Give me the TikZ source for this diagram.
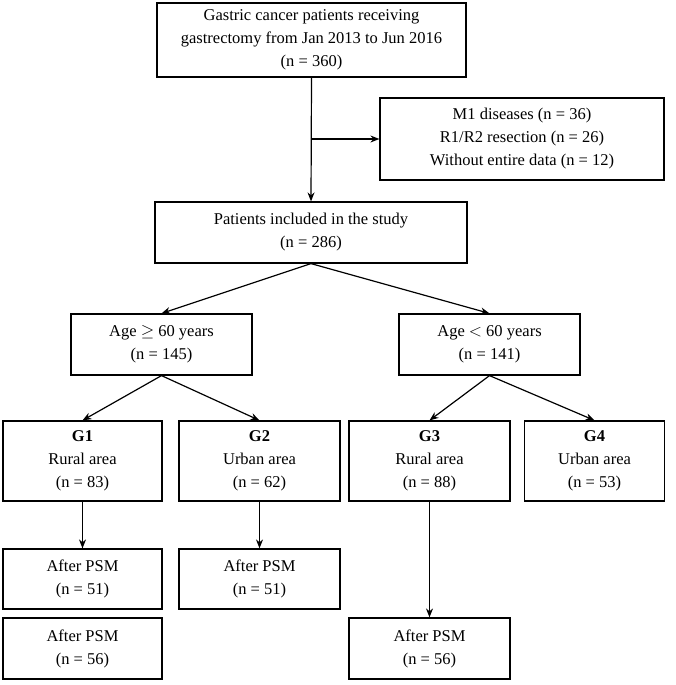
\documentclass[tikz,border=0pt]{standalone}
\usepackage{fontspec}
\setmainfont{Liberation Serif}
\usetikzlibrary{arrows.meta}
\begin{document}
\begin{tikzpicture}[x=1pt,y=-1pt,
  bx/.style={draw,line width=1.2pt,align=center,inner sep=0pt,font=\fontsize{16.5}{23}\selectfont},
  ar/.style={line width=1.2pt,-{Stealth[length=9pt,width=7pt]}}]
\useasboundingbox[fill=white] (0,0) rectangle (676,685);
\node[bx,minimum width=309,minimum height=74] (a) at (311.5,40) {Gastric cancer patients receiving\\gastrectomy from Jan 2013 to Jun 2016\\(n = 360)};
\node[bx,minimum width=284,minimum height=82] (b) at (522,139) {M1 diseases (n = 36)\\R1/R2 resection (n = 26)\\Without entire data (n = 12)};
\node[bx,minimum width=312,minimum height=61] (c) at (311,232.5) {Patients included in the study\\(n = 286)};
\node[bx,minimum width=181,minimum height=61] (d) at (161.5,344.5) {Age $\geq$ 60 years\\(n = 145)};
\node[bx,minimum width=181,minimum height=61] (e) at (489.5,344.5) {Age $<$ 60 years\\(n = 141)};
\node[bx,minimum width=159,minimum height=80] (g1) at (82.5,461) {\textbf{G1}\\Rural area\\(n = 83)};
\node[bx,minimum width=161,minimum height=80] (g2) at (259.5,461) {\textbf{G2}\\Urban area\\(n = 62)};
\node[bx,minimum width=161,minimum height=80] (g3) at (429.5,461) {\textbf{G3}\\Rural area\\(n = 88)};
\node[bx,minimum width=140,minimum height=80] (g4) at (594.5,461) {\textbf{G4}\\Urban area\\(n = 53)};
\node[bx,minimum width=159,minimum height=60] (p1) at (82.5,579) {After PSM\\(n = 51)};
\node[bx,minimum width=161,minimum height=60] (p2) at (259.5,579) {After PSM\\(n = 51)};
\node[bx,minimum width=159,minimum height=61] (p3) at (82.5,648.5) {After PSM\\(n = 56)};
\node[bx,minimum width=161,minimum height=61] (p4) at (429.5,648.5) {After PSM\\(n = 56)};
\coordinate (j) at (a.south |- b.west);
\draw[ar] (a.south) -- (c.north);
\draw[ar] (j) -- (b.west);
\draw[ar] (c.south) -- (d.north);
\draw[ar] (c.south) -- (e.north);
\draw[ar] (d.south) -- (g1.north);
\draw[ar] (d.south) -- (g2.north);
\draw[ar] (e.south) -- (g3.north);
\draw[ar] (e.south) -- (g4.north);
\draw[ar] (g1.south) -- (p1.north);
\draw[ar] (g2.south) -- (p2.north);
\draw[ar] (g3.south) -- (p4.north);
\end{tikzpicture}
\end{document}
